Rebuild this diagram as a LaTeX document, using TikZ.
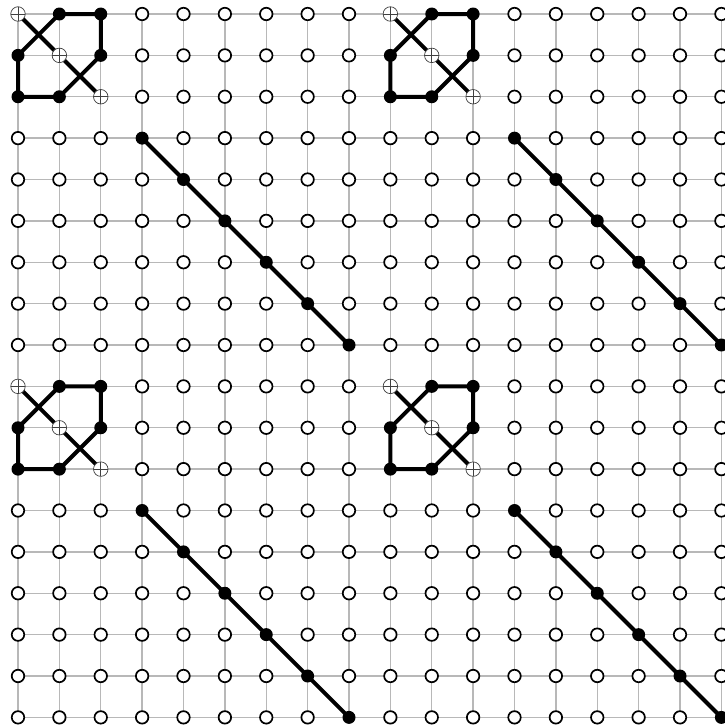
\documentclass[tikz,border=0pt]{standalone}
\pgfdeclarelayer{grid}
\pgfdeclarelayer{edges}
\pgfsetlayers{grid,edges,main}
\tikzset{
  vtx/.style={circle, draw=black, line width=1.7pt, fill=white, minimum size=12.5pt, inner sep=0pt},
  fvtx/.style={circle, fill=black, minimum size=13pt, inner sep=0pt},
  pvtx/.style={circle, draw=black!75, line width=0.7pt, fill=white, minimum size=14.5pt, inner sep=0pt,
    path picture={\draw[black!75, line width=0.6pt]
      (path picture bounding box.north) -- (path picture bounding box.south)
      (path picture bounding box.west) -- (path picture bounding box.east);}},
  gridline/.style={line width=1.3pt, black!28},
  edge/.style={line width=4pt, black, line join=round, line cap=round},
}
\begin{document}
\begin{tikzpicture}[x=1pt,y=1pt]
\useasboundingbox (0,0) rectangle (724,-728);
% vertices
\foreach \i in {0,...,17} {
  \foreach \j in {0,...,17} {
    \pgfmathtruncatemacro\c{mod(\i,9)}
    \pgfmathtruncatemacro\r{mod(\j,9)}
    \pgfmathtruncatemacro\t{(\c==\r && \c<3) ? 2 : ((\c==\r) ? 1 : ((\c<3 && \r<3) ? 1 : 0))}
    \ifcase\t
      \node[vtx] (n-\i-\j) at ({18+41.375*\i},{-14-41.375*\j}) {};
    \or
      \node[fvtx] (n-\i-\j) at ({18+41.375*\i},{-14-41.375*\j}) {};
    \or
      \node[pvtx] (n-\i-\j) at ({18+41.375*\i},{-14-41.375*\j}) {};
    \fi
  }
}
% grid
\begin{pgfonlayer}{grid}
  \foreach \k in {0,...,17} {
    \draw[gridline] (n-0-\k.center) -- (n-17-\k.center);
    \draw[gridline] (n-\k-0.center) -- (n-\k-17.center);
  }
\end{pgfonlayer}
% edges
\begin{pgfonlayer}{edges}
  \foreach \ax/\aa/\ab/\ac/\ah in {0/1/2/3/8, 9/10/11/12/17} {
    \foreach \by/\ba/\bb/\bc/\bh in {0/1/2/3/8, 9/10/11/12/17} {
      \draw[edge] (n-\ax-\ba.center) -- (n-\aa-\by.center) -- (n-\ab-\by.center)
        -- (n-\ab-\ba.center) -- (n-\aa-\bb.center) -- (n-\ax-\bb.center) -- cycle;
      \draw[edge] (n-\ax-\by.center) -- (n-\aa-\ba.center) -- (n-\ab-\bb.center);
      \draw[edge] (n-\ac-\bc.center) -- (n-\ah-\bh.center);
    }
  }
\end{pgfonlayer}
\end{tikzpicture}
\end{document}
